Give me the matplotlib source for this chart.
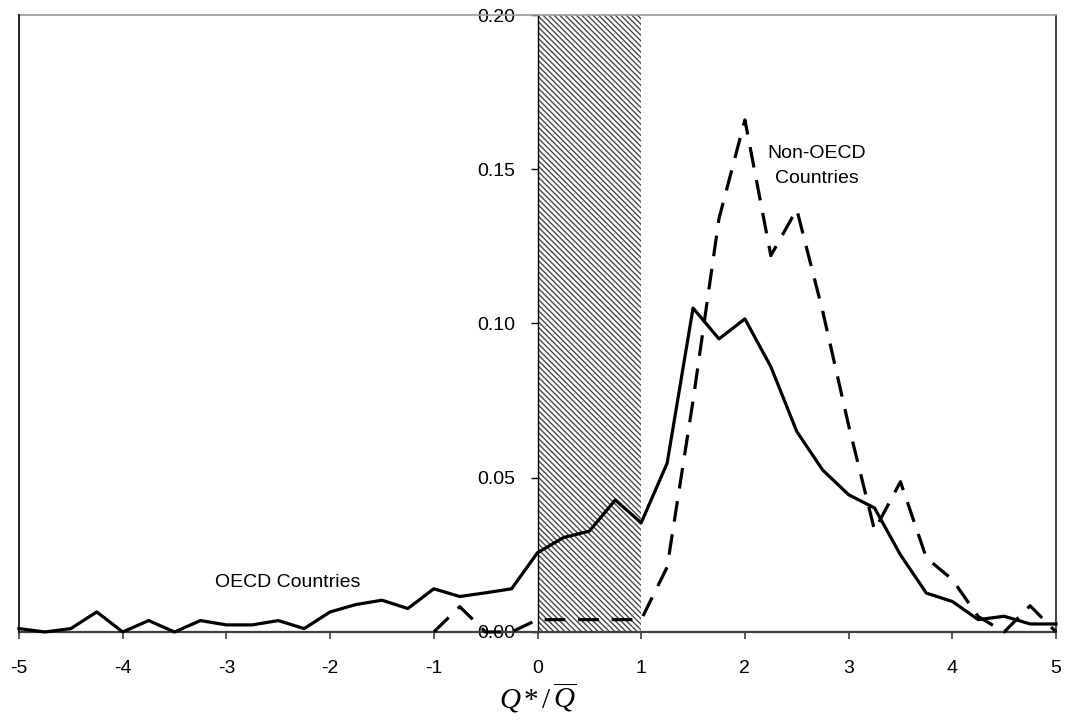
import numpy as np
import matplotlib
matplotlib.use("Agg")
import matplotlib.pyplot as plt

plt.rcParams['font.family'] = ['Liberation Sans', 'DejaVu Sans']
plt.rcParams['mathtext.fontset'] = 'custom'
plt.rcParams['mathtext.rm'] = 'Liberation Serif'
plt.rcParams['mathtext.it'] = 'Liberation Serif:italic'
plt.rcParams['hatch.linewidth'] = 1.0
plt.rcParams['hatch.color'] = '#484848'

# grid of Q*/Qbar values
x = np.arange(-5, 5.01, 0.25)

# OECD countries (solid)
oecd = [0.0011, 0.0, 0.0011, 0.0065, 0.0, 0.0037, 0.0, 0.0037, 0.0023, 0.0023,
        0.0037, 0.0011, 0.0065, 0.0089, 0.0103, 0.0076, 0.0140, 0.0115, 0.0127, 0.0140,
        0.0257, 0.0306, 0.0327, 0.0428, 0.0354, 0.0547, 0.1050, 0.0950, 0.1015, 0.0860,
        0.0650, 0.0525, 0.0445, 0.0402, 0.0250, 0.0126, 0.0099, 0.0040, 0.0051, 0.0026,
        0.0026]

# Non-OECD countries (dashed), nothing left of -1
nan = np.nan
non_oecd = [nan] * 16 + [
    0.0, 0.0082, 0.0, 0.0, 0.004, 0.004, 0.004, 0.004, 0.004, 0.021,
    0.075, 0.134, 0.166, 0.122, 0.137, 0.104, 0.067, 0.033, 0.0487, 0.024,
    0.017, 0.005, 0.0, 0.0085, 0.0]

xticks = list(range(-5, 6))
yticks = [0.0, 0.05, 0.10, 0.15, 0.20]

fig = plt.figure(figsize=(10.67, 7.25), dpi=100)
ax = fig.add_axes([0.0178, 0.1283, 0.9719, 0.851])

# shaded band between 0 and 1
ax.axvspan(0, 1, facecolor='white', edgecolor='#484848', hatch='\\' * 6, lw=0, zorder=1)

ax.plot(x, oecd, color='black', lw=2.3, zorder=3, clip_on=False)
ax.plot(x, non_oecd, color='black', lw=2.3, linestyle=(0, (6.5, 4)), zorder=3, clip_on=False)

ax.set_xlim(-5, 5)
ax.set_ylim(0, 0.2)

ax.spines['left'].set_position(('data', 0))
ax.spines['left'].set_color('black')
ax.spines['left'].set_linewidth(1.0)
ax.spines['bottom'].set_color('#404040')
ax.spines['bottom'].set_linewidth(1.6)
ax.spines['top'].set_color('#9a9a9a')
ax.spines['top'].set_linewidth(1.2)
ax.spines['right'].set_color('#222222')
ax.spines['right'].set_linewidth(1.2)
# outer left frame edge
ax.plot([0, 0], [0, 1], transform=ax.transAxes, color='black', lw=1.2, clip_on=False, zorder=4)

ax.set_xticks(xticks)
ax.set_xticklabels([str(t) for t in xticks])
ax.set_yticks(yticks)
ax.set_yticklabels([f'{t:.2f}' for t in yticks])
ax.tick_params(axis='x', direction='out', length=5, width=1.2, color='#404040',
               labelsize=14, pad=15)
ax.tick_params(axis='y', direction='out', length=5, width=1.0, color='black',
               labelsize=14, pad=11)

ax.set_xlabel(r'$Q\,{*}\,/\,\overline{Q}$', fontsize=21, labelpad=3)

ax.text(-2.41, 0.0159, 'OECD Countries', fontsize=14, ha='center', va='center')
ax.text(2.69, 0.151, 'Non-OECD\nCountries', fontsize=14, ha='center', va='center',
        linespacing=1.6)

fig.savefig('out.png', dpi=100)
